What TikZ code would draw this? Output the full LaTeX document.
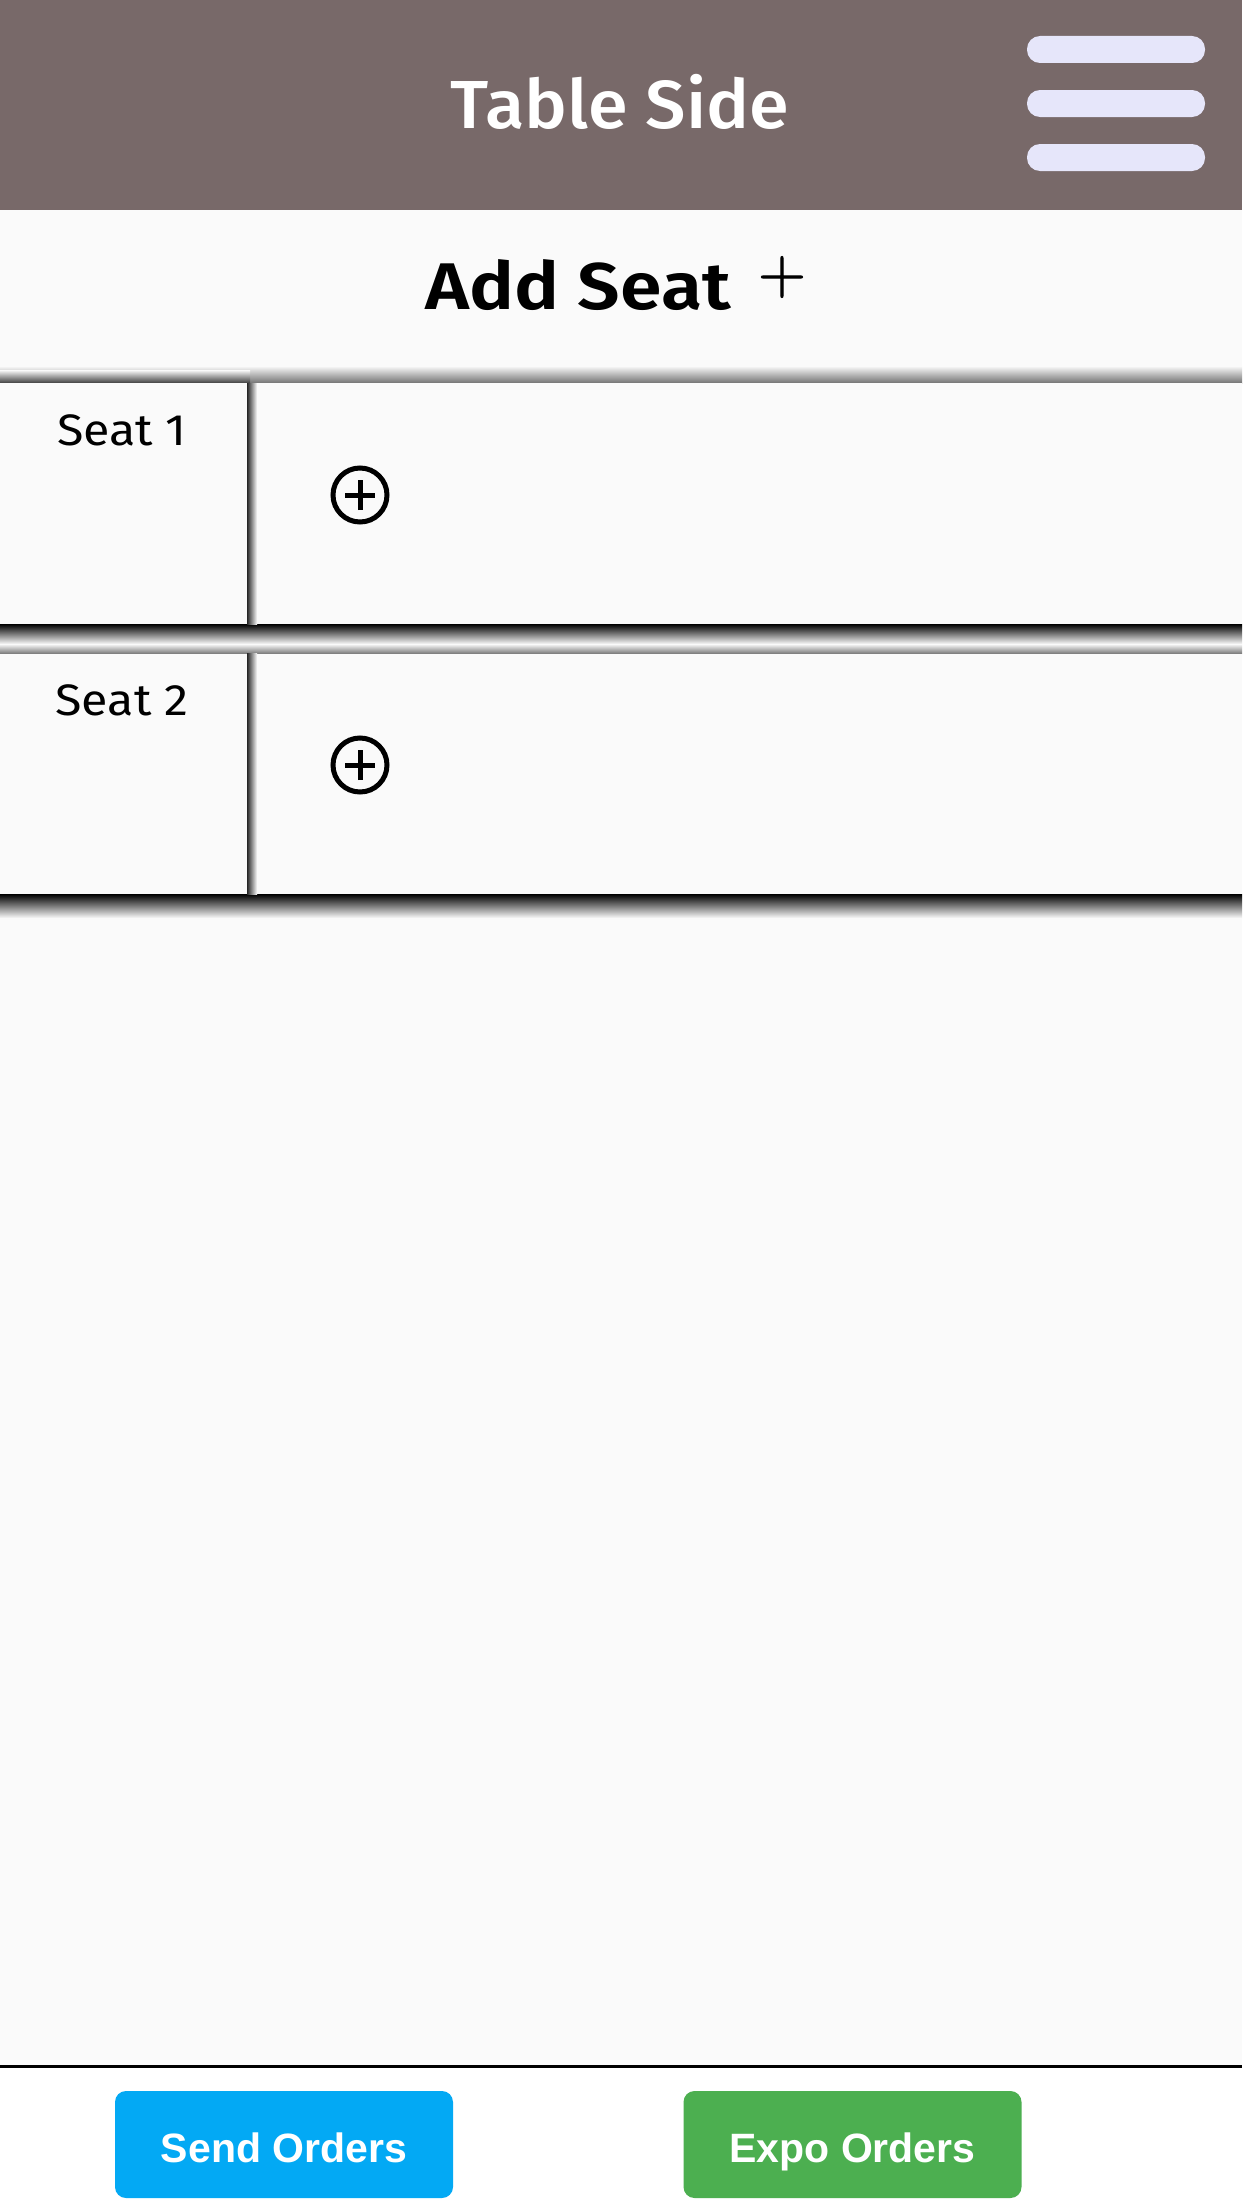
\documentclass[tikz,border=0pt]{standalone}
\usepackage{fontspec}
\setmainfont{Fira Sans}
\newfontfamily\btnfont{Liberation Sans}
\newfontfamily\titlefont[FakeStretch=1.06]{Fira Sans Medium}
\newfontfamily\addfont[FakeStretch=1.14]{Fira Sans SemiBold}
\newfontfamily\seatfont[FakeStretch=1.1]{Fira Sans}
\newfontfamily\plusfont[FakeBold=1.2]{Latin Modern Roman}
\definecolor{hdr}{HTML}{786969}
\definecolor{bars}{HTML}{E6E6FA}
\definecolor{page}{HTML}{FAFAFA}
\definecolor{sendblue}{HTML}{03A9F4}
\definecolor{expogreen}{HTML}{4CAF50}
\begin{document}
\begin{tikzpicture}[x=1pt,y=-1pt,
 menubar/.style={fill=bars, rounded corners=13pt, minimum width=178pt, minimum height=27pt, inner sep=0pt, draw=none},
 seatrow/.style={fill=page, minimum width=1242pt, minimum height=241pt, inner sep=0pt},
 seatlabel/.style={font=\seatfont\fontsize{44}{48}\selectfont, anchor=base, inner sep=0pt},
 addicon/.style={circle, draw=black, line width=5pt, minimum size=54pt, inner sep=0pt,
   path picture={\draw[line width=5pt] ([xshift=-15pt]path picture bounding box.center) -- ([xshift=15pt]path picture bounding box.center);
                 \draw[line width=5pt] ([yshift=-15pt]path picture bounding box.center) -- ([yshift=15pt]path picture bounding box.center);}},
 btn/.style={rounded corners=11pt, minimum width=338pt, minimum height=107pt, text=white, font=\btnfont\bfseries\fontsize{41}{44}\selectfont, inner sep=0pt, text height=35pt, text depth=0pt}
]
\useasboundingbox (0,0) rectangle (1242,2208);
\fill[page] (0,0) rectangle (1242,2066);
% header
\node[fill=hdr, minimum width=1242pt, minimum height=210pt, inner sep=0pt, anchor=north west] (header) at (0,0) {};
\node[text=white, anchor=base, inner sep=0pt, font=\titlefont\fontsize{68}{72}\selectfont] (title) at (620,128) {Table Side};
\node[menubar] (bar1) at (1116,49.5) {};
\node[menubar] (bar2) at (1116,103.5) {};
\node[menubar] (bar3) at (1116,157.5) {};
% add seat
\node[anchor=base, inner sep=0pt, font=\addfont\fontsize{66}{70}\selectfont] (addseat) at (578,309) {Add Seat};
\node[inner sep=0pt, font=\plusfont\fontsize{66}{66}\selectfont] (addplus) at (782,277) {+};
% shadows above row 1
\shade[top color=page, bottom color=black!55] (0,366) rectangle (1242,383);
\shade[top color=page, bottom color=black!75] (0,370) rectangle (250,383);
% seat rows
\node[seatrow] (row1) at (621,503.5) {};
\node[seatrow] (row2) at (621,773.5) {};
\shade[top color=black, bottom color=page] (0,624) rectangle (1242,644);
\shade[top color=page, bottom color=black!50] (0,644) rectangle (1242,653);
\shade[top color=black, bottom color=page] (0,894) rectangle (1242,918);
\shade[left color=black!85, right color=page] (247,383) rectangle (257,624);
\shade[left color=black!85, right color=page] (247,653) rectangle (257,894);
\node[seatlabel] (seat1) at (122,445) {Seat 1};
\node[seatlabel] (seat2) at (122,715) {Seat 2};
\node[addicon] (add1) at (360,495) {};
\node[addicon] (add2) at (360,765) {};
% footer
\node[fill=white, minimum width=1242pt, minimum height=142pt, inner sep=0pt, anchor=north west] (footer) at (0,2066) {};
\draw[line width=3pt] (footer.north west) -- (footer.north east);
\node[btn, fill=sendblue] (send) at (284,2144.5) {Send Orders};
\node[btn, fill=expogreen] (expo) at (852.5,2144.5) {Expo Orders};
\end{tikzpicture}
\end{document}
